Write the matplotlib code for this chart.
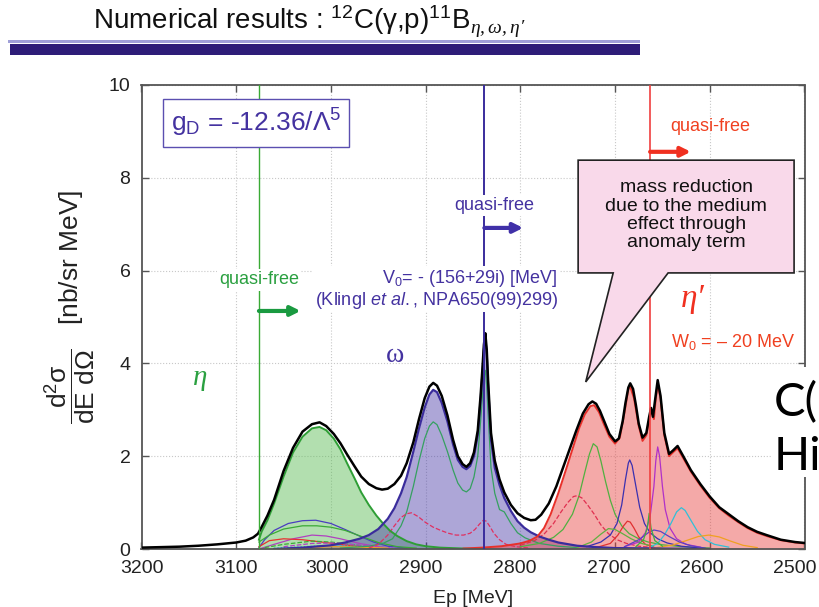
import matplotlib
matplotlib.use('Agg')
import matplotlib.pyplot as plt
import matplotlib.transforms as mtransforms
from matplotlib.patches import Rectangle, Polygon

plt.rcParams['font.family'] = ['Liberation Sans', 'DejaVu Sans']
plt.rcParams['mathtext.fontset'] = 'custom'
plt.rcParams['mathtext.rm'] = 'Liberation Sans'
plt.rcParams['mathtext.it'] = 'Liberation Sans:italic'
plt.rcParams['mathtext.bf'] = 'Liberation Sans:bold'
plt.rcParams['mathtext.sf'] = 'Liberation Serif:italic'
plt.rcParams['mathtext.default'] = 'regular'

# total spectrum (black)
ep_total = [3200, 3180, 3160, 3140, 3120, 3100, 3090, 3082, 3077, 3073, 3067, 3060, 3050, 3040, 3030,
            3020, 3012, 3005, 2997, 2990, 2983, 2975, 2968, 2960, 2952, 2946, 2940, 2933, 2926, 2920,
            2913, 2907, 2901, 2896, 2892, 2888, 2883, 2877, 2871, 2866, 2861, 2857, 2853, 2849, 2845,
            2842, 2840, 2838.5, 2837, 2835.5, 2834, 2831, 2827, 2822, 2817, 2810, 2803, 2796, 2789,
            2784, 2778, 2770, 2762, 2755, 2748, 2741, 2734, 2728, 2724, 2720, 2716, 2712, 2706, 2700,
            2696, 2692, 2689, 2686, 2684, 2681, 2678, 2675, 2671, 2667, 2664, 2662, 2660, 2657.5, 2655,
            2652, 2648, 2643, 2639, 2634, 2628, 2620, 2610, 2600, 2590, 2580, 2570, 2560, 2550, 2540,
            2525, 2510, 2500]
xs_total = [0.03, 0.04, 0.05, 0.07, 0.10, 0.14, 0.18, 0.25, 0.33, 0.48, 0.72, 1.06, 1.68, 2.18, 2.53,
            2.69, 2.73, 2.65, 2.48, 2.28, 2.04, 1.78, 1.56, 1.40, 1.31, 1.28, 1.30, 1.40, 1.58, 1.85,
            2.30, 2.80, 3.25, 3.50, 3.58, 3.52, 3.30, 2.88, 2.35, 2.00, 1.83, 1.77, 1.85, 2.08, 2.55,
            3.30, 3.90, 4.40, 4.65, 4.30, 3.60, 2.50, 1.90, 1.50, 1.22, 0.95, 0.77, 0.67, 0.62,
            0.63, 0.74, 0.98, 1.35, 1.75, 2.15, 2.55, 2.92, 3.12, 3.18, 3.13, 2.98, 2.78, 2.48, 2.32,
            2.38, 2.75, 3.15, 3.48, 3.57, 3.45, 3.10, 2.70, 2.40, 2.50, 2.85, 3.04, 2.85, 3.25, 3.64,
            3.30, 2.50, 2.05, 2.12, 2.22, 2.00, 1.70, 1.40, 1.13, 0.90, 0.75, 0.60, 0.47, 0.37, 0.30,
            0.20, 0.15, 0.13]

# eta contribution (green fill)
ep_eta = [3076, 3073, 3067, 3060, 3050, 3040, 3030, 3020, 3012, 3005, 2997, 2990, 2983, 2975, 2968,
          2960, 2952, 2945, 2938, 2930, 2920, 2910, 2900, 2885, 2860, 2840]
xs_eta = [0.20, 0.38, 0.62, 0.98, 1.56, 2.08, 2.42, 2.60, 2.63, 2.56, 2.38, 2.15, 1.85, 1.52, 1.22,
          0.95, 0.72, 0.55, 0.40, 0.28, 0.17, 0.10, 0.06, 0.03, 0.01, 0.0]

# omega contribution (blue fill)
ep_omega = [3060, 3030, 3000, 2985, 2970, 2960, 2950, 2940, 2933, 2926, 2920, 2913, 2907, 2901, 2896,
            2892, 2888, 2883, 2877, 2871, 2866, 2861, 2857, 2853, 2849, 2845, 2842, 2840, 2838.5, 2837,
            2835.5, 2834, 2831, 2827, 2822, 2817, 2810, 2803, 2796, 2789, 2780, 2770, 2760, 2740, 2720,
            2700, 2650, 2600]
xs_omega = [0.0, 0.03, 0.08, 0.14, 0.22, 0.30, 0.43, 0.65, 0.88, 1.20, 1.55, 2.10, 2.60, 3.05, 3.33,
            3.43, 3.38, 3.15, 2.75, 2.25, 1.92, 1.77, 1.72, 1.79, 2.00, 2.45, 3.20, 3.80, 4.30, 4.55,
            4.20, 3.50, 2.35, 1.75, 1.38, 1.10, 0.82, 0.60, 0.46, 0.36, 0.27, 0.20, 0.14, 0.07, 0.04,
            0.02, 0.01, 0.0]

# eta' contribution (red fill)
ep_etap = [2860, 2840, 2820, 2800, 2790, 2782, 2775, 2768, 2760, 2752, 2745, 2738, 2732, 2726, 2722,
           2717, 2712, 2706, 2700, 2695, 2690, 2686, 2684, 2680, 2675, 2671, 2667, 2663, 2661, 2659,
           2657, 2655, 2652, 2648, 2643, 2638, 2634, 2628, 2620, 2610, 2600, 2590, 2580, 2570, 2560,
           2550, 2540, 2525, 2510, 2500]
xs_etap = [0.01, 0.03, 0.06, 0.12, 0.18, 0.27, 0.45, 0.75, 1.20, 1.70, 2.15, 2.60, 2.90, 3.08, 3.10,
           2.95, 2.70, 2.42, 2.27, 2.40, 2.95, 3.45, 3.50, 3.25, 2.65, 2.33, 2.45, 2.90, 2.95, 2.80,
           3.25, 3.55, 3.25, 2.45, 2.00, 2.10, 2.17, 1.96, 1.67, 1.37, 1.10, 0.88, 0.72, 0.58, 0.45,
           0.35, 0.28, 0.19, 0.14, 0.12]

# partial contributions (thin lines)
ep_om_green = [2990, 2960, 2945, 2935, 2926, 2920, 2913, 2907, 2901, 2896, 2892, 2888, 2883, 2877, 2871,
               2866, 2861, 2857, 2853, 2849, 2845, 2842, 2840, 2838.5, 2837, 2835.5, 2834, 2831, 2827,
               2822, 2817, 2810, 2803, 2795, 2780, 2760, 2740]
xs_om_green = [0.02, 0.06, 0.12, 0.22, 0.50, 0.80, 1.35, 1.90, 2.38, 2.65, 2.74, 2.68, 2.45, 2.10, 1.70,
               1.42, 1.27, 1.23, 1.30, 1.55, 2.00, 2.75, 3.30, 3.70, 3.85, 3.50, 2.90, 1.75, 1.20,
               0.85, 0.80, 0.55, 0.35, 0.24, 0.12, 0.06, 0.03]
ep_om_reddash = [2960, 2950, 2940, 2933, 2926, 2920, 2915, 2908, 2900, 2892, 2884, 2876, 2868, 2860, 2853,
                 2848, 2843, 2839, 2836, 2832, 2828, 2822, 2815, 2805, 2790]
xs_om_reddash = [0.02, 0.10, 0.30, 0.50, 0.68, 0.76, 0.78, 0.70, 0.57, 0.47, 0.40, 0.34, 0.30, 0.30, 0.34,
                 0.42, 0.54, 0.62, 0.60, 0.48, 0.34, 0.20, 0.10, 0.05, 0.02]

ep_eta_blue = [3076, 3070, 3060, 3045, 3030, 3016, 3000, 2985, 2970, 2955, 2940, 2920]
xs_eta_blue = [0.03, 0.20, 0.40, 0.55, 0.61, 0.62, 0.55, 0.42, 0.28, 0.15, 0.06, 0.02]
ep_eta_green = [3076, 3065, 3050, 3030, 3015, 3000, 2985, 2965, 2950, 2930, 2910]
xs_eta_green = [0.15, 0.30, 0.43, 0.50, 0.50, 0.47, 0.40, 0.25, 0.14, 0.05, 0.02]
ep_eta_purple = [3076, 3060, 3040, 3020, 3005, 2990, 2970, 2950, 2930]
xs_eta_purple = [0.0, 0.10, 0.22, 0.30, 0.28, 0.22, 0.12, 0.05, 0.01]
ep_eta_red = [3076, 3065, 3050, 3030, 3010, 2990, 2970, 2950]
xs_eta_red = [0.05, 0.18, 0.22, 0.20, 0.15, 0.10, 0.05, 0.02]
ep_eta_gdash = [3070, 3050, 3020, 3000, 2980, 2960]
xs_eta_gdash = [0.03, 0.10, 0.17, 0.15, 0.10, 0.05]
ep_eta_pdash = [3050, 3020, 2995, 2970, 2950]
xs_eta_pdash = [0.05, 0.12, 0.13, 0.08, 0.03]
ep_eta_cyan = [3060, 3020, 2990, 2960, 2930]
xs_eta_cyan = [0.02, 0.06, 0.07, 0.04, 0.01]
ep_eta_orange = [3040, 3000, 2970, 2940]
xs_eta_orange = [0.01, 0.05, 0.04, 0.02]

ep_etap_green = [2800, 2780, 2765, 2755, 2745, 2738, 2732, 2727, 2723, 2719, 2715, 2710, 2705, 2700, 2693,
                 2685, 2675, 2665, 2650, 2630, 2600]
xs_etap_green = [0.05, 0.12, 0.25, 0.42, 0.75, 1.15, 1.65, 2.05, 2.27, 2.20, 1.90, 1.45, 1.05, 0.75, 0.50,
                 0.33, 0.22, 0.15, 0.09, 0.05, 0.02]
ep_etap_reddash = [2800, 2785, 2775, 2765, 2757, 2750, 2744, 2740, 2735, 2729, 2722, 2715, 2707, 2698, 2688,
                   2675, 2660]
xs_etap_reddash = [0.08, 0.18, 0.32, 0.55, 0.80, 1.00, 1.13, 1.15, 1.10, 0.95, 0.75, 0.52, 0.33, 0.20, 0.12,
                   0.06, 0.03]
ep_etap_blue = [2730, 2715, 2705, 2698, 2693, 2689, 2686, 2684.5, 2682, 2678, 2674, 2669, 2663, 2655, 2645,
                2630, 2610]
xs_etap_blue = [0.05, 0.15, 0.30, 0.55, 0.95, 1.50, 1.85, 1.92, 1.80, 1.35, 0.90, 0.55, 0.35, 0.22, 0.13,
                0.06, 0.02]
ep_etap_red = [2720, 2705, 2697, 2691, 2687, 2684, 2680, 2675, 2668, 2658]
xs_etap_red = [0.03, 0.12, 0.30, 0.50, 0.60, 0.58, 0.45, 0.26, 0.10, 0.03]
ep_etap_green2 = [2740, 2725, 2715, 2707, 2700, 2692, 2683, 2672, 2660]
xs_etap_green2 = [0.03, 0.15, 0.32, 0.44, 0.42, 0.33, 0.22, 0.12, 0.06]
ep_etap_purple = [2690, 2675, 2668, 2663, 2659, 2657, 2655, 2653, 2650, 2647, 2642, 2635, 2625, 2610]
xs_etap_purple = [0.05, 0.15, 0.35, 0.70, 1.35, 1.90, 2.20, 2.00, 1.35, 0.85, 0.45, 0.22, 0.10, 0.04]
ep_etap_cyan = [2665, 2655, 2648, 2641, 2635, 2630, 2626, 2620, 2613, 2605, 2595, 2580]
xs_etap_cyan = [0.02, 0.12, 0.30, 0.55, 0.80, 0.89, 0.83, 0.62, 0.38, 0.20, 0.10, 0.04]
ep_etap_orange = [2660, 2640, 2625, 2612, 2601, 2590, 2578, 2565, 2550]
xs_etap_orange = [0.02, 0.08, 0.18, 0.27, 0.30, 0.26, 0.17, 0.08, 0.03]
ep_etap_purple2 = [2690, 2675, 2665, 2659, 2652, 2643, 2632, 2620, 2605]
xs_etap_purple2 = [0.05, 0.20, 0.35, 0.41, 0.38, 0.27, 0.15, 0.07, 0.02]
ep_etap_green3 = [2678, 2670, 2666, 2664, 2662, 2658, 2650]
xs_etap_green3 = [0.05, 0.20, 0.45, 0.77, 0.45, 0.18, 0.06]

# quasi-free thresholds
qf_eta, qf_omega, qf_etap = 3076, 2838, 2663

x_ticks = [3200, 3100, 3000, 2900, 2800, 2700, 2600, 2500]
y_ticks = [0, 2, 4, 6, 8, 10]

fig = plt.figure(figsize=(8.19, 6.07), dpi=100)
ax = fig.add_axes([141.5 / 819, 1 - 549 / 607, 663 / 819, 464 / 607])

ax.fill_between(ep_eta, xs_eta, color='#56ba4f', alpha=0.45, lw=0, zorder=1)
ax.fill_between(ep_omega, xs_omega, color='#493aa8', alpha=0.45, lw=0, zorder=1.1)
ax.fill_between(ep_etap, xs_etap, color='#e7403e', alpha=0.45, lw=0, zorder=1.2)

parts = [
    (ep_eta_blue, xs_eta_blue, '#4a3cc0', '-'),
    (ep_eta_green, xs_eta_green, '#3aaa35', '-'),
    (ep_eta_purple, xs_eta_purple, '#b040c0', '-'),
    (ep_eta_red, xs_eta_red, '#e83030', '-'),
    (ep_eta_gdash, xs_eta_gdash, '#3aaa35', '--'),
    (ep_eta_pdash, xs_eta_pdash, '#b040c0', '--'),
    (ep_eta_cyan, xs_eta_cyan, '#30c0d0', ':'),
    (ep_eta_orange, xs_eta_orange, '#f0a020', '-'),
    (ep_om_green, xs_om_green, '#35a060', '-'),
    (ep_om_reddash, xs_om_reddash, '#e03060', '--'),
    (ep_etap_green, xs_etap_green, '#50b040', '-'),
    (ep_etap_reddash, xs_etap_reddash, '#e03050', '--'),
    (ep_etap_blue, xs_etap_blue, '#3a30b0', '-'),
    (ep_etap_red, xs_etap_red, '#e03030', '-'),
    (ep_etap_green2, xs_etap_green2, '#60b040', '-'),
    (ep_etap_purple, xs_etap_purple, '#b030c8', '-'),
    (ep_etap_cyan, xs_etap_cyan, '#30c0d8', '-'),
    (ep_etap_orange, xs_etap_orange, '#f0a020', '-'),
    (ep_etap_purple2, xs_etap_purple2, '#6040c0', '-'),
    (ep_etap_green3, xs_etap_green3, '#40b040', '-'),
]
for ep, xs, c, ls in parts:
    ax.plot(ep, xs, color=c, ls=ls, lw=0.9, zorder=2)

ax.plot(ep_eta, xs_eta, color='#2e9e35', lw=1.4, zorder=2.5)
ax.plot(ep_omega, xs_omega, color='#3a2c9c', lw=1.6, zorder=2.5)
ax.plot(ep_etap, xs_etap, color='#e8302a', lw=1.4, zorder=2.5)
ax.plot(ep_total, xs_total, color='black', lw=1.8, zorder=3)

ax.axvline(qf_eta, color='#3aaa35', lw=1.0, zorder=3.5)
ax.axvline(qf_omega, color='#3a2c9c', lw=1.4, zorder=3.5)
ax.axvline(qf_etap, color='#f04040', lw=1.2, zorder=3.5)

# quasi-free labels and arrows
wbox = dict(facecolor='white', edgecolor='none', pad=1.5)
ax.text(3076, 5.8, 'quasi-free', color='#2aa040', fontsize=13, ha='center', va='center', bbox=wbox, zorder=5)
ax.text(2828, 7.41, 'quasi-free', color='#4432a0', fontsize=13, ha='center', va='center', bbox=wbox, zorder=5)
ax.text(2599, 9.1, 'quasi-free', color='#f04020', fontsize=13, ha='center', va='center', zorder=5)
arr = dict(arrowstyle='-|>', lw=3, mutation_scale=14, shrinkA=0, shrinkB=0)
ax.annotate('', xy=(3032, 5.13), xytext=(qf_eta, 5.13), arrowprops=dict(arr, color='#1a9a40'), zorder=5)
ax.annotate('', xy=(2797, 6.92), xytext=(qf_omega, 6.92), arrowprops=dict(arr, color='#4030a8'), zorder=5)
ax.annotate('', xy=(2620, 8.56), xytext=(qf_etap, 8.56), arrowprops=dict(arr, color='#f03020'), zorder=5)

ax.text(2760.5, 5.6, 'V$_0$= - (156+29i) [MeV]\n(Klingl $\\mathit{et\\ al.}$, NPA650(99)299)',
        color='#4432a0', fontsize=13, ha='right', va='center', multialignment='right',
        linespacing=1.05, bbox=dict(facecolor='white', edgecolor='none', pad=1), zorder=5)
ax.text(2641, 4.46, 'W$_0$ = \u2013 20 MeV', color='#f04020', fontsize=13, ha='left', va='center', zorder=5)

ax.text(3138, 3.69, '\u03b7', color='#2aa040', fontsize=21, family='Liberation Serif',
        style='italic', ha='center', va='center', zorder=5)
ax.text(2932, 4.16, '\u03c9', color='#4432a0', fontsize=20, family='Liberation Serif',
        ha='center', va='center', zorder=5)
ax.text(2618, 5.4, '\u03b7\u2032', color='#f03020', fontsize=24, family='Liberation Serif',
        style='italic', ha='center', va='center', zorder=5)

ax.text(3079, 9.18, 'g$_D$ = -12.36/\u039b$^5$', color='#4432a0', fontsize=19, ha='center', va='center',
        bbox=dict(facecolor='white', edgecolor='#5b4fb0', lw=1, pad=5.5), zorder=5)

# callout
callout = Polygon([(2739, 8.38), (2511, 8.38), (2511, 5.95), (2644, 5.95), (2731, 3.6),
                   (2702, 5.95), (2739, 5.95)], closed=True, facecolor='#f9d9ea',
                  edgecolor='#222222', lw=1.2, zorder=6)
ax.add_patch(callout)
ax.text(2625, 7.19, 'mass reduction\ndue to the medium\neffect through\nanomaly term', fontsize=14,
        ha='center', va='center', linespacing=1.1, color='#111111', zorder=7)

ax.set_xlim(3200, 2500)
ax.set_ylim(0, 10)
ax.set_xticks(x_ticks)
ax.set_yticks(y_ticks)
ax.grid(True, color='#c8c8c8', ls=':', lw=0.8)
ax.set_axisbelow(True)
ax.tick_params(direction='in', top=True, right=True, length=5, width=1, labelsize=14,
               pad=8, color='#555555', labelcolor='#222222')
for s in ax.spines.values():
    s.set_color('#555555')
    s.set_linewidth(1.3)
ax.set_xlabel('Ep [MeV]', fontsize=14, labelpad=9, color='#222222')

# tick labels sit a little left of their ticks in the original
shift_px = [0, 0, -4, -5, -6, -6, -8, -10]
for lab, dx in zip(ax.get_xticklabels(), shift_px):
    lab.set_transform(lab.get_transform() + mtransforms.ScaledTranslation(dx / 100, 0, fig.dpi_scale_trans))

fig.text(70 / 819, 1 - 307 / 607, r'$\dfrac{d^2\sigma}{dE\ d\Omega}$   [nb/sr MeV]', rotation=90,
         fontsize=19, ha='center', va='center', color='#222222')

# slide title and bar
fig.text(93 / 819, 1 - 22 / 607,
         r'Numerical results : $^{12}$C($\gamma$,p)$^{11}$B$_{\mathsf{\eta,\omega,\eta\prime}}$',
         fontsize=20, ha='left', va='center', color='#111111')
fig.patches.append(Rectangle((8 / 819, 1 - 43 / 607), 632 / 819, 3 / 607, transform=fig.transFigure,
                             facecolor='#a0a0d8', edgecolor='none'))
fig.patches.append(Rectangle((10 / 819, 1 - 55 / 607), 630 / 819, 11 / 607, transform=fig.transFigure,
                             facecolor='#2e1d78', edgecolor='none'))

# clipped slide text on the right
fig.patches.append(Rectangle((771 / 819, 1 - 477 / 607), 48 / 819, 110 / 607, transform=fig.transFigure,
                             facecolor='white', edgecolor='none', zorder=5))
fig.text(774 / 819, 1 - 403 / 607, 'C(', fontsize=34, family='Lato', ha='left', va='center', zorder=6)
fig.text(774 / 819, 1 - 457 / 607, 'Hi', fontsize=34, family='Lato', ha='left', va='center', zorder=6)

fig.savefig('out.png', dpi=100)
